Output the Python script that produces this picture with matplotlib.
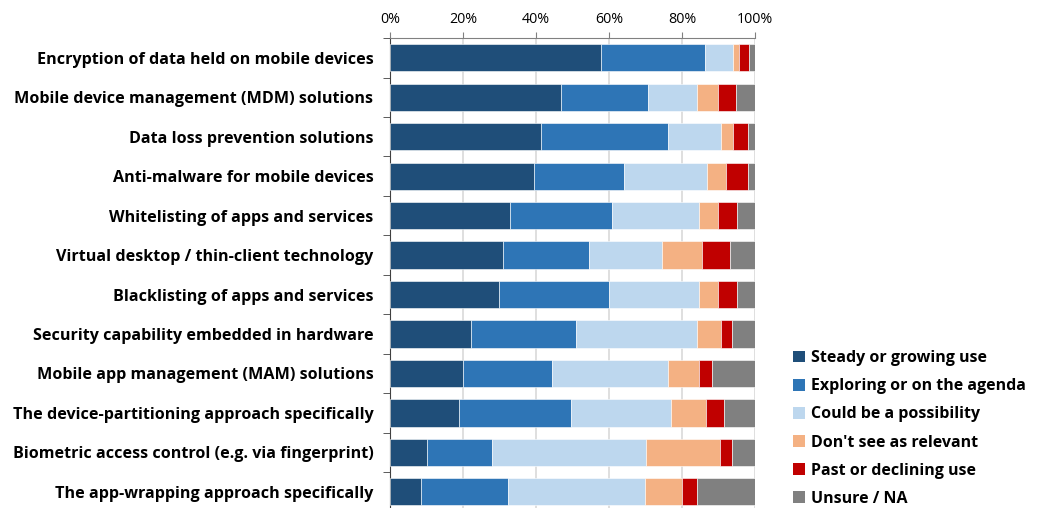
import matplotlib
matplotlib.use("Agg")
import matplotlib.pyplot as plt
import numpy as np
from matplotlib.patches import Patch
from matplotlib.ticker import PercentFormatter

categories = [
    "Encryption of data held on mobile devices",
    "Mobile device management (MDM) solutions",
    "Data loss prevention solutions",
    "Anti-malware for mobile devices",
    "Whitelisting of apps and services",
    "Virtual desktop / thin-client technology",
    "Blacklisting of apps and services",
    "Security capability embedded in hardware",
    "Mobile app management (MAM) solutions",
    "The device-partitioning approach specifically",
    "Biometric access control (e.g. via fingerprint)",
    "The app-wrapping approach specifically",
]

series = [
    "Steady or growing use",
    "Exploring or on the agenda",
    "Could be a possibility",
    "Don't see as relevant",
    "Past or declining use",
    "Unsure / NA",
]

steady = [57.8, 46.8, 41.3, 39.4, 32.8, 30.9, 30.0, 22.3, 19.9, 18.8, 10.2, 8.5]
exploring = [28.6, 24.0, 34.9, 24.6, 28.1, 23.7, 29.9, 28.6, 24.4, 30.7, 17.7, 23.9]
possible = [7.7, 13.2, 14.6, 22.8, 23.7, 20.0, 24.9, 33.1, 31.8, 27.6, 42.3, 37.4]
not_relevant = [1.6, 5.9, 3.2, 5.2, 5.3, 10.9, 5.1, 6.8, 8.6, 9.6, 20.2, 10.2]
declining = [2.7, 5.0, 4.1, 6.1, 5.2, 7.7, 5.3, 2.9, 3.6, 4.9, 3.3, 4.1]
unsure = [1.6, 5.1, 1.9, 1.9, 4.9, 6.8, 4.8, 6.3, 11.7, 8.4, 6.3, 15.9]

colors = ["#1F4E79", "#2E75B6", "#BDD7EE", "#F4B183", "#C00000", "#808080"]

plt.rcParams["font.family"] = ["Open Sans", "DejaVu Sans"]

fig = plt.figure(figsize=(10.41, 5.08), dpi=100)
ax = fig.add_axes([0.3746, -0.007, 0.3506, 0.932])

data = [steady, exploring, possible, not_relevant, declining, unsure]
y = np.arange(len(categories))
left = np.zeros(len(categories))
for vals, col, name in zip(data, colors, series):
    vals = np.array(vals)
    ax.barh(y, vals, left=left, height=0.69, color=col, label=name,
            edgecolor="white", linewidth=0.4, zorder=3)
    left += vals

ax.set_xlim(0, 100)
ax.set_ylim(len(categories) - 0.5, -0.5)
ax.xaxis.set_major_formatter(PercentFormatter(decimals=0))
ax.set_xticks(np.arange(0, 101, 20))
ax.xaxis.tick_top()
ax.tick_params(axis="x", direction="out", length=4, color="#808080",
               labelsize=10.3, pad=4, labelcolor="#000000")
ax.grid(axis="x", color="#D9D9D9", linewidth=1.2, zorder=0)

ax.set_yticks(y)
ax.set_yticklabels(categories, fontsize=11.6, fontweight="bold")
ax.set_yticks(np.arange(-0.5, len(categories), 1), minor=True)
ax.tick_params(axis="y", which="major", length=0, pad=12)
ax.tick_params(axis="y", which="minor", length=5, color="#404040", direction="out")

for s in ["right", "bottom"]:
    ax.spines[s].set_visible(False)
ax.spines["top"].set_color("#808080")
ax.spines["left"].set_color("#404040")

handles = [Patch(facecolor=c, label=n) for c, n in zip(colors, series)]
leg = fig.legend(handles=handles, loc="upper left", bbox_to_anchor=(0.748, 0.339),
                 frameon=False, handlelength=0.75, handleheight=0.75,
                 handletextpad=0.35, labelspacing=0.76,
                 prop={"weight": "bold", "size": 11.5})

fig.savefig("out.png", dpi=100)
